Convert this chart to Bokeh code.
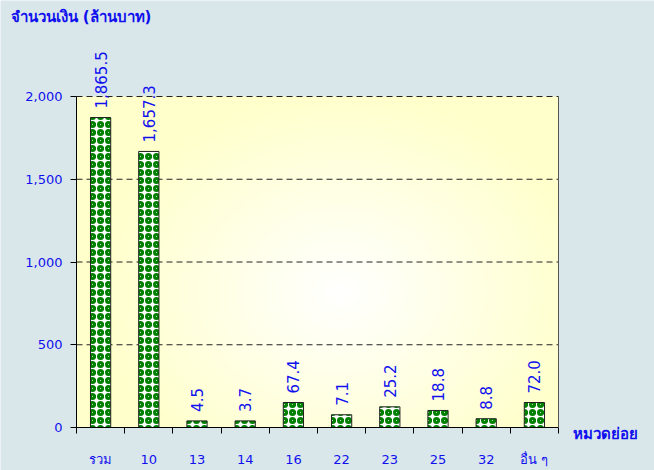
import numpy as np
from bokeh.plotting import figure
from bokeh.models import (ColumnDataSource, LabelSet, Label, Range1d, FixedTicker,
                          LinearAxis)
from bokeh.core.properties import value
from bokeh.embed import file_html
from bokeh.resources import INLINE

# ---- data ----
categories = ["รวม", "10", "13", "14", "16", "22", "23", "25", "32", "อื่น ๆ"]
bar_heights = [1873, 1668, 40, 40, 151, 77, 125, 103, 53, 151]
value_labels = ["1,865.5", "1,657.3", "4.5", "3.7", "67.4", "7.1", "25.2", "18.8", "8.8", "72.0"]
y_ticks = [0, 500, 1000, 1500, 2000]
y_tick_labels = ["0", "500", "1,000", "1,500", "2,000"]
y_title = "จำนวนเงิน (ล้านบาท)"
x_title = "หมวดย่อย"

FONT = "DejaVu Sans"
BLUE = "#1010ee"
BG = "#dae7ea"

W, H = 654, 470
# plot-area placement in pixels
PL, PR, PT, PB = 76, 558, 96, 427

n = len(categories)
x0, x1 = -0.5, n - 0.5
y0, y1 = 0, y_ticks[-1]
sx = (PR - PL) / (x1 - x0)
sy = (PB - PT) / (y1 - y0)
xr = Range1d(x0 - PL / sx, x1 + (W - PR) / sx)
yr = Range1d(y0 - (H - PB) / sy, y1 + PT / sy)

idx = list(range(n))
src = ColumnDataSource(dict(x=idx, top=bar_heights, text=value_labels))

p = figure(width=W, height=H, output_backend="svg", toolbar_location=None,
           x_range=xr, y_range=yr,
           min_border_left=0, min_border_right=0, min_border_top=0, min_border_bottom=0)
p.border_fill_color = BG
p.background_fill_color = BG
p.outline_line_color = None
p.xgrid.visible = False
p.ygrid.visible = False

# background radial gradient for plot area (decoration)
nx, ny = 160, 110
gx = np.linspace(0, 1, nx)[None, :]
gy = np.linspace(0, 1, ny)[:, None]
t = np.clip(np.sqrt(((gx - 0.55) / 0.52) ** 2 + ((gy - 0.41) / 0.62) ** 2), 0, 1)
img = np.empty((ny, nx), dtype=np.uint32)
v = img.view(dtype=np.uint8).reshape((ny, nx, 4))
v[:, :, 0] = 255
v[:, :, 1] = 255
v[:, :, 2] = (255 - t * 52).astype(np.uint8)
v[:, :, 3] = 255
p.image_rgba(image=[img], x=x0, y=y0, dw=x1 - x0, dh=y1 - y0, level="image")

# dashed grid lines
gy_vals = y_ticks[1:]
p.segment(x0=[x0] * len(gy_vals), x1=[x1] * len(gy_vals), y0=gy_vals, y1=gy_vals,
          line_color="#222222", line_dash="6 4", line_width=1, level="underlay")

# bars
p.vbar(x="x", top="top", width=0.42, source=src, fill_color="white",
       line_color="#222222", line_width=1,
       hatch_pattern="ring", hatch_color="#008000", hatch_scale=8, hatch_weight=3)

# value labels
labels = LabelSet(x="x", y="top", text="text", source=src, angle=np.pi / 2,
                  text_align="left", text_baseline="middle", y_offset=9,
                  text_font=value(FONT), text_font_size="15px", text_color=BLUE)
p.add_layout(labels)

# y axis
ya = p.yaxis[0]
ya.fixed_location = x0
ya.bounds = (y0, y1)
ya.ticker = FixedTicker(ticks=y_ticks)
ya.major_label_overrides = {k: s for k, s in zip(y_ticks, y_tick_labels)}
ya.major_tick_out = 6
ya.major_tick_in = 0
ya.minor_tick_line_color = None
ya.axis_line_color = "black"
ya.major_tick_line_color = "black"
ya.major_label_text_color = BLUE
ya.major_label_text_font = FONT
ya.major_label_text_font_size = "13px"
ya.major_label_standoff = 8

# x axis
xa = p.xaxis[0]
xa.fixed_location = y0
xa.bounds = (x0, x1)
xa.ticker = FixedTicker(ticks=idx, minor_ticks=[i - 0.5 for i in range(n + 1)])
xa.major_label_overrides = {i: c for i, c in zip(idx, categories)}
xa.major_tick_out = 0
xa.major_tick_in = 0
xa.major_tick_line_color = None
xa.minor_tick_out = 6
xa.minor_tick_in = 0
xa.minor_tick_line_color = "black"
xa.axis_line_color = "black"
xa.major_label_text_color = BLUE
xa.major_label_text_font = FONT
xa.major_label_text_font_size = "13px"
xa.major_label_standoff = 18

# right border of plot area
ra = LinearAxis(fixed_location=x1, bounds=(y0, y1), ticker=FixedTicker(ticks=[]),
                axis_line_color="#555555", major_tick_line_color=None,
                minor_tick_line_color=None, major_label_text_font_size="0px")
p.add_layout(ra, "right")

# titles
p.add_layout(Label(x=x0, y=y1, x_offset=-66, y_offset=80, text=y_title,
                   text_font=FONT, text_font_size="15px", text_font_style="bold",
                   text_color=BLUE, text_baseline="middle", text_align="left"))
p.add_layout(Label(x=x1, y=y0, x_offset=14, y_offset=-6, text=x_title,
                   text_font=FONT, text_font_size="15px", text_font_style="bold",
                   text_color=BLUE, text_baseline="middle", text_align="left"))

open("out.html", "w").write(file_html(p, INLINE))
